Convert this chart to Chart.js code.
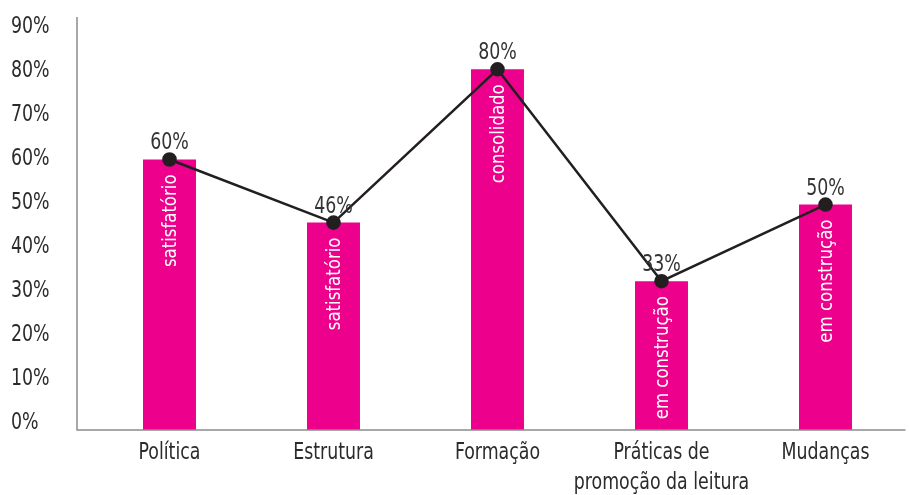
<!DOCTYPE html>
<html>
<head>
<meta charset="utf-8">
<script src="https://cdn.jsdelivr.net/npm/chart.js@4/dist/chart.umd.min.js"></script>
<style>
  html, body { margin: 0; padding: 0; background: #fff; overflow: hidden; }
  #wrap { width: 909px; height: 495px; position: relative; }
</style>
</head>
<body>
<div id="wrap"><canvas id="chart"></canvas></div>
<script>
// data
const categories = ["Política", "Estrutura", "Formação", ["Práticas de", "promoção da leitura"], "Mudanças"];
const barValues = [60, 46, 80, 33, 50];
const lineValues = [60, 46, 80, 33, 50];
const barTexts = ["satisfatório", "satisfatório", "consolidado", "em construção", "em construção"];
const yTicks = [0, 10, 20, 30, 40, 50, 60, 70, 80, 90];

const FONT = "'DejaVu Sans Condensed', 'Liberation Sans Narrow', sans-serif";
const MAGENTA = "#ec008c";
const INK = "#231f20";
const TEXT = "#2b2b2b";

// narrow text: squeeze the font horizontally
function squeezed(c, str, x, y, size, align, sx) {
  c.save();
  c.translate(x, y);
  c.scale(sx, 1);
  c.font = size + "px " + FONT;
  c.textAlign = align;
  c.textBaseline = "middle";
  c.fillText(str, 0, 0);
  c.restore();
}

const extras = {
  id: "extras",
  afterDatasetsDraw(chart) {
    const c = chart.ctx;
    const area = chart.chartArea;
    const xs = chart.scales.x;
    const ys = chart.scales.y;
    const axLeft = area.left - 10.5;

    c.save();
    c.strokeStyle = "#8c8c8c";
    c.lineWidth = 1.5;
    c.beginPath();
    c.moveTo(axLeft, area.top);
    c.lineTo(axLeft, area.bottom);
    c.lineTo(area.right - 2, area.bottom);
    c.stroke();

    // y tick labels (slightly tighter spacing than the bars, like the original)
    c.fillStyle = TEXT;
    yTicks.forEach(v => {
      const y = ys.getPixelForValue(v) - 7 + v * 0.11;
      squeezed(c, v + "%", 11, y, 23, "left", 0.84);
    });

    // x category labels
    categories.forEach((lab, i) => {
      const x = xs.getPixelForValue(i);
      const lines = Array.isArray(lab) ? lab : [lab];
      lines.forEach((t, k) => {
        squeezed(c, t, x, area.bottom + 23 + k * 30, 23, "center", 0.84);
      });
    });

    // text inside bars
    const bars = chart.getDatasetMeta(0).data;
    c.fillStyle = "#fff";
    bars.forEach((b, i) => {
      c.save();
      c.translate(b.x + 1, b.y + 15);
      c.rotate(-Math.PI / 2);
      squeezed(c, barTexts[i], 0, 0, 20, "right", 0.92);
      c.restore();
    });

    // value labels over the points
    const pts = chart.getDatasetMeta(1).data;
    c.fillStyle = "#333";
    pts.forEach((p, i) => {
      squeezed(c, lineValues[i] + "%", p.x, p.y - 16, 23, "center", 0.84);
    });
    c.restore();
  }
};

new Chart(document.getElementById("chart"), {
  data: {
    labels: categories,
    datasets: [
      {
        type: "bar",
        data: barValues,
        backgroundColor: MAGENTA,
        categoryPercentage: 1,
        barPercentage: 0.323,
        order: 2
      },
      {
        type: "line",
        data: lineValues,
        borderColor: INK,
        borderWidth: 2.6,
        pointRadius: 6,
        pointBackgroundColor: INK,
        pointBorderColor: INK,
        tension: 0,
        clip: false,
        order: 1
      }
    ]
  },
  options: {
    responsive: true,
    maintainAspectRatio: false,
    animation: false,
    layout: { autoPadding: false, padding: { left: 11, right: 1.5, top: 17, bottom: 0 } },
    plugins: { legend: { display: false }, tooltip: { enabled: false } },
    scales: {
      x: {
        grid: { display: false },
        border: { display: false },
        ticks: { color: "rgba(0,0,0,0)", maxRotation: 0, autoSkip: false, font: { size: 10 } },
        afterFit(s) { s.height = 65; s.paddingLeft = 0; s.paddingRight = 0; }
      },
      y: {
        min: 0,
        max: 91.6,
        grid: { display: false },
        border: { display: false },
        afterBuildTicks(s) { s.ticks = yTicks.map(v => ({ value: v })); },
        ticks: { color: "rgba(0,0,0,0)", font: { size: 10 } },
        afterFit(s) { s.width = 76.5; }
      }
    }
  },
  plugins: [extras]
});
</script>
</body>
</html>
